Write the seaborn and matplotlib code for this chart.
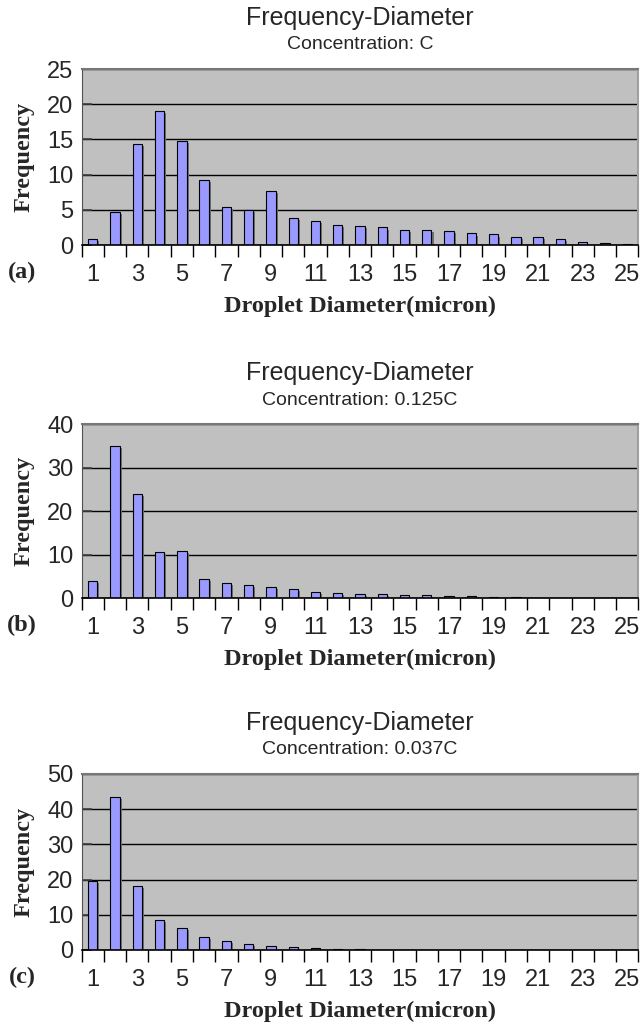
import matplotlib
matplotlib.use("Agg")
import matplotlib.pyplot as plt
import matplotlib.patheffects as pe
from matplotlib.ticker import FixedLocator
import seaborn as sns
import pandas as pd

# droplet diameter classes (micron)
diameters = list(range(1, 26))

# frequency
freq_a = [0.9, 4.7, 14.35, 19.1, 14.8, 9.3, 5.4, 5.0, 7.7, 3.8, 3.4, 2.9, 2.65,
          2.5, 2.1, 2.2, 1.95, 1.65, 1.5, 1.2, 1.1, 0.8, 0.5, 0.35, 0.2]
freq_b = [3.9, 34.9, 23.9, 10.5, 10.9, 4.4, 3.4, 3.0, 2.5, 2.1, 1.3, 1.1, 0.85,
          0.85, 0.6, 0.6, 0.4, 0.4, 0.2, 0.2, 0, 0, 0, 0, 0]
freq_c = [19.6, 43.4, 18.1, 8.5, 6.3, 3.6, 2.5, 1.8, 1.0, 0.75, 0.5, 0.2, 0.2,
          0, 0, 0, 0, 0, 0, 0, 0, 0, 0, 0, 0]

concentrations = ["C", "0.125C", "0.037C"]
panel_letters = ["(a)", "(b)", "(c)"]
y_max = [25, 40, 50]
y_step = [5, 10, 10]
tick_labels = [str(d) for d in diameters[::2]]

sns.set_style("white")
plt.rcParams['font.family'] = ['Liberation Sans', 'DejaVu Sans']

SERIF = ['Liberation Serif', 'DejaVu Serif']

fig = plt.figure(figsize=(6.4, 10.27), dpi=100)

# axes boxes in figure fraction: left, bottom, width, height
boxes = [
    [0.1275, 0.7614, 0.870, 0.1714],
    [0.1275, 0.4177, 0.870, 0.1694],
    [0.1275, 0.0750, 0.870, 0.1714],
]

for i, freqs in enumerate([freq_a, freq_b, freq_c]):
    ax = fig.add_axes(boxes[i])
    ax.set_facecolor('#C0C0C0')
    df = pd.DataFrame({'diameter': diameters, 'frequency': freqs})
    sns.barplot(data=df, x='diameter', y='frequency', ax=ax, width=0.42,
                color='#9999FF', saturation=1, edgecolor='black', linewidth=0.8)
    for bar in ax.patches:
        if bar.get_height() == 0:
            bar.set_visible(False)
        bar.set_path_effects([pe.SimplePatchShadow(offset=(1.5, -1.5),
                                                   shadow_rgbFace='#707070', alpha=1),
                              pe.Normal()])

    ax.set_xlim(-0.5, len(diameters) - 0.5)
    ax.set_ylim(0, y_max[i])
    ax.set_yticks(range(0, y_max[i] + 1, y_step[i]))
    ax.yaxis.grid(True, color='black', linewidth=1)
    ax.set_axisbelow(True)

    ax.set_xticks(range(0, len(diameters), 2))
    ax.set_xticklabels(tick_labels)
    ax.xaxis.set_minor_locator(FixedLocator([k - 0.5 for k in range(len(diameters) + 1)]))
    ax.tick_params(axis='x', which='major', length=0, pad=14, labelsize=17)
    ax.tick_params(axis='x', which='minor', length=8.5, width=1, color='black',
                   direction='out', bottom=True)
    ax.tick_params(axis='y', which='major', length=7, width=1.2, color='#404040',
                   direction='in', pad=6, labelsize=17, left=True)

    for side in ax.spines:
        ax.spines[side].set_visible(True)
    ax.spines['bottom'].set_color('black')
    ax.spines['bottom'].set_linewidth(1.2)
    ax.spines['left'].set_color('#505050')
    ax.spines['top'].set_color('#777777')
    ax.spines['top'].set_linewidth(1.5)
    ax.spines['right'].set_color('#A0A0A0')
    ax.spines['right'].set_linewidth(1.5)

    ax.set_xlabel('Droplet Diameter(micron)', family=SERIF, fontweight='bold',
                  fontsize=17.5, labelpad=7)
    ax.set_ylabel('Frequency', family=SERIF, fontweight='bold', fontsize=17.5,
                  labelpad=9)

    ax.annotate('Frequency-Diameter', xy=(0.5, 1), xycoords='axes fraction',
                xytext=(0, 36.7), textcoords='offset points',
                ha='center', va='center', fontsize=18)
    ax.annotate('Concentration: ' + concentrations[i], xy=(0.5, 1),
                xycoords='axes fraction', xytext=(0, 17.3),
                textcoords='offset points', ha='center', va='center', fontsize=14)
    ax.annotate(panel_letters[i], xy=(0, 0), xycoords='axes fraction',
                xytext=(-43, -20), textcoords='offset points', ha='center',
                va='center', family=SERIF, fontweight='bold', fontsize=17.5)

fig.savefig('out.png', dpi=100)
